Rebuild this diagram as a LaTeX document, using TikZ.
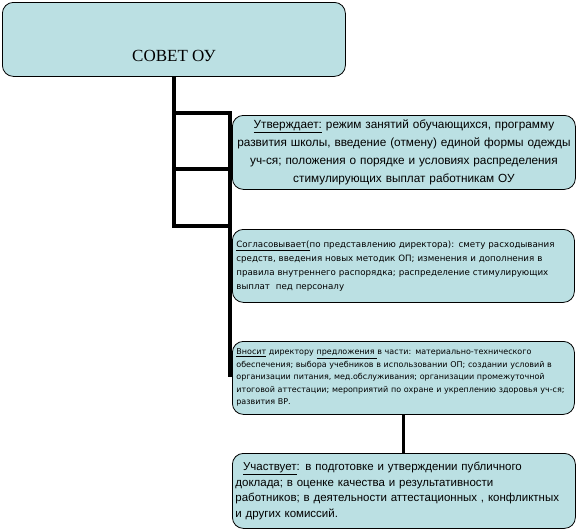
\documentclass[tikz,border=0pt]{standalone}
\usepackage{fontspec}
\usepackage{xcolor}
\usepackage{tikz}
\usetikzlibrary{positioning,calc}
\newfontfamily\arialfont{Liberation Sans}
\newfontfamily\timesfont{Liberation Serif}
\newfontfamily\verdfont{DejaVu Sans}
\definecolor{boxfill}{HTML}{BBE0E3}

\begin{document}
\begin{tikzpicture}[
    x=1pt, y=-1pt,
    board/.style={rectangle, draw=black, line width=0.8pt, rounded corners=11pt, fill=boxfill, inner sep=4pt, anchor=north west},
    conn/.style={line width=3.2pt, color=black},
]
    \useasboundingbox (0,0) rectangle (578,530);

    % Top: the council
    \node[board, minimum width=343pt, minimum height=74pt] (sovet) at (2,2) {};
    \node[font=\timesfont\fontsize{17}{20}\selectfont] (sovettitle) at ([yshift=21pt]sovet.south) {СОВЕТ ОУ};

    % Right column: 4 competences
    \node[board, minimum width=343pt, minimum height=74pt, text width=337pt, inner sep=3pt, align=center,
          font=\arialfont\fontsize{11.8}{18}\selectfont] (utv) at (232,115)
        {\underline{Утверждает:} режим занятий обучающихся, программу\\
         развития школы, введение (отмену) единой формы одежды\\
         уч-ся; положения о порядке и условиях распределения\\
         стимулирующих выплат работникам ОУ};
    \node[board, minimum width=342pt, minimum height=73pt, text width=334pt, align=left,
          font=\verdfont\fontsize{8.7}{14}\selectfont] (sogl) at (232,229)
        {\underline{Согласовывает(}по представлению директора): смету расходывания\\
         средств, введения новых методик ОП; изменения и дополнения в\\
         правила внутреннего распорядка; распределение стимулирующих\\
         выплат\ \ пед персоналу};
    \node[board, minimum width=342pt, minimum height=73pt, text width=334pt, align=left,
          font=\verdfont\fontsize{8}{12.5}\selectfont] (vnos) at (232,341)
        {\underline{Вносит} директору \underline{предложения }в части: материально-технического\\
         обеспечения; выбора учебников в использовании ОП; создании условий в\\
         организации питания, мед.обслуживания; организации промежуточной\\
         итоговой аттестации; мероприятий по охране и укреплению здоровья уч-ся;\\
         развития ВР.};
    \node[board, minimum width=343pt, minimum height=75pt, text width=337pt, inner sep=3pt, align=left,
          font=\arialfont\fontsize{11.5}{15.5}\selectfont] (uch) at (232,453)
        {\ \ \underline{Участвует}: в подготовке и утверждении публичного\\
         доклада; в оценке качества и результативности\\
         работников; в деятельности аттестационных , конфликтных\\
         и других комиссий.};

    % Bus between council and column
    \coordinate (bustop) at (230,113);
    \coordinate (busmid) at (230,169);
    \coordinate (busbot) at (230,226);
    \coordinate (busend) at (230,377);

    \draw[conn] (sovet.south) -- (sovet.south |- busbot) -- (busbot);
    \draw[conn] (sovet.south |- bustop) -- (bustop) -- (busend);
    \draw[conn] (sovet.south |- busmid) -- (busmid);
    \draw[conn] (vnos.south) -- (vnos.south |- uch.north);

\end{tikzpicture}
\end{document}
